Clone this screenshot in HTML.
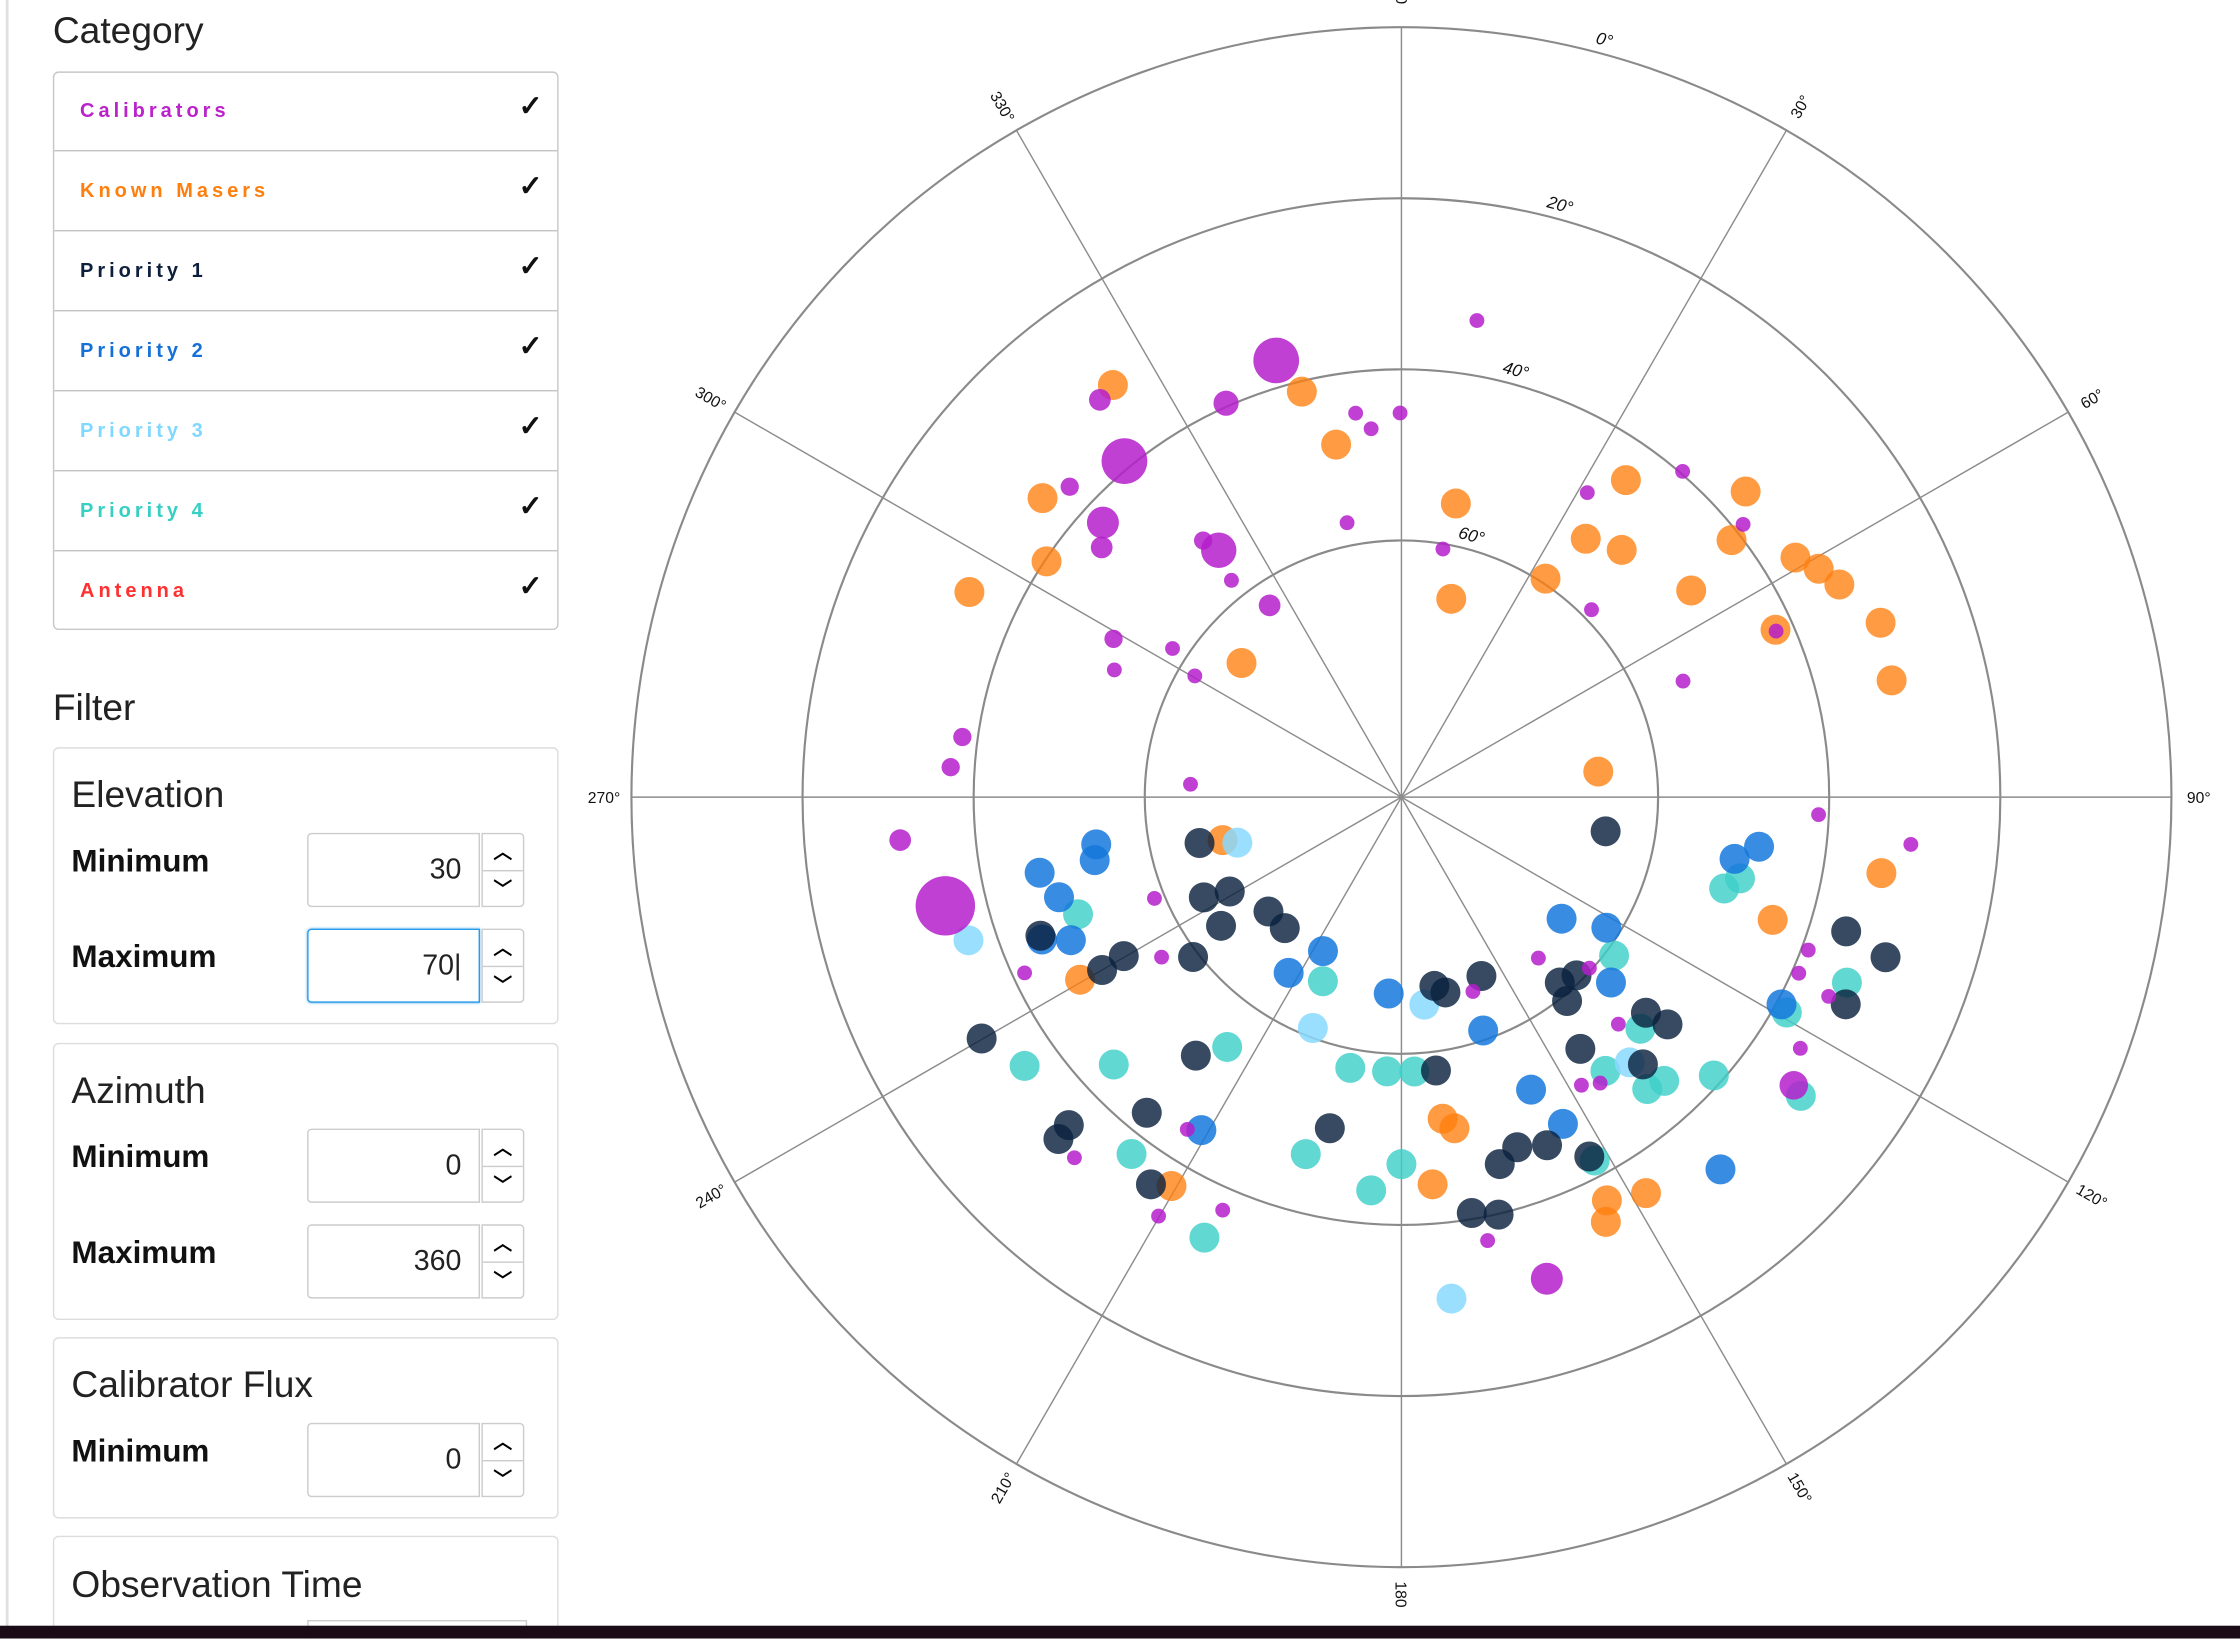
<!DOCTYPE html>
<html><head><meta charset="utf-8">
<style>
html,body{margin:0;padding:0;width:2240px;height:1638px;overflow:hidden;background:#fff;font-family:"Liberation Sans",sans-serif;}
#root{position:absolute;left:0;top:0;width:1568px;height:1147px;overflow:hidden;transform:scale(1.428571);transform-origin:0 0;}
.abs{position:absolute;}
.h{font-size:26px;color:#222;}
.box{position:absolute;left:37px;width:352px;border:1px solid #c8c8c8;border-radius:4px;background:#fff;}
.row{position:absolute;left:0;width:352px;height:55px;border-top:1px solid #c4c4c4;}
.row span{position:absolute;left:18px;top:19px;font-size:14px;font-weight:bold;letter-spacing:2.8px;}
.row i{position:absolute;left:325px;top:12px;font-style:normal;font-size:20px;font-weight:bold;color:#111;}
.lbl{position:absolute;left:12px;font-size:22px;font-weight:bold;color:#111;}
.inp{position:absolute;left:177px;width:121px;height:52px;border:1px solid #ccc;border-radius:3px 0 0 3px;font-size:20px;text-align:right;box-sizing:border-box;padding:14px 12px 0 0;color:#222;}
.spin{position:absolute;left:299px;width:30px;height:52px;border:1px solid #ccc;border-radius:0 3px 3px 0;box-sizing:border-box;}
.spin div{height:25px;text-align:center;font-size:13px;line-height:25px;font-weight:bold;}
.spin div+div{border-top:1px solid #ccc;}
</style></head><body>
<div id="root">
<div class="abs" style="left:4px;top:0;width:2px;height:1147px;background:#e0e0e0"></div>
<div class="abs h" style="left:37px;top:6px">Category</div>
<div class="box" style="top:50px;height:389px">
 <div class="row" style="top:-1px;border-top:none"><span style="color:#bb22cc">Calibrators</span><i>✓</i></div>
 <div class="row" style="top:54px"><span style="color:#ff7f0e">Known Masers</span><i>✓</i></div>
 <div class="row" style="top:110px"><span style="color:#0d1f3c">Priority 1</span><i>✓</i></div>
 <div class="row" style="top:166px"><span style="color:#1570d8">Priority 2</span><i>✓</i></div>
 <div class="row" style="top:222px"><span style="color:#80d8ff">Priority 3</span><i>✓</i></div>
 <div class="row" style="top:278px"><span style="color:#35cfc4">Priority 4</span><i>✓</i></div>
 <div class="row" style="top:334px"><span style="color:#ff3030">Antenna</span><i>✓</i></div>
</div>
<div class="abs h" style="left:37px;top:480px">Filter</div>

<div class="box" style="top:523px;height:192px;border-color:#ddd">
 <div class="abs h" style="left:12px;top:17px">Elevation</div>
 <div class="lbl" style="top:66px">Minimum</div>
 <div class="inp" style="top:59px">30</div>
 <div class="spin" style="top:59px"><div>︿</div><div>﹀</div></div>
 <div class="lbl" style="top:133px">Maximum</div>
 <div class="inp" style="top:126px;border:1px solid #2a9be8;box-shadow:0 0 2px #5ab4f0">70|</div>
 <div class="spin" style="top:126px"><div>︿</div><div>﹀</div></div>
</div>
<div class="box" style="top:730px;height:192px;border-color:#ddd">
 <div class="abs h" style="left:12px;top:17px">Azimuth</div>
 <div class="lbl" style="top:66px">Minimum</div>
 <div class="inp" style="top:59px">0</div>
 <div class="spin" style="top:59px"><div>︿</div><div>﹀</div></div>
 <div class="lbl" style="top:133px">Maximum</div>
 <div class="inp" style="top:126px">360</div>
 <div class="spin" style="top:126px"><div>︿</div><div>﹀</div></div>
</div>
<div class="box" style="top:936px;height:125px;border-color:#ddd">
 <div class="abs h" style="left:12px;top:17px">Calibrator Flux</div>
 <div class="lbl" style="top:66px">Minimum</div>
 <div class="inp" style="top:59px">0</div>
 <div class="spin" style="top:59px"><div>︿</div><div>﹀</div></div>
</div>
<div class="box" style="top:1075px;height:100px;border-color:#ddd">
 <div class="abs h" style="left:12px;top:18px">Observation Time</div>
 <div class="abs" style="left:177px;top:58px;width:152px;height:30px;border:1px solid #ccc"></div>
</div>

<svg id="chart" class="abs" style="left:0;top:0" width="1568" height="1138"></svg>
<div class="abs" style="left:0;top:1138px;width:1568px;height:9px;background:#1b0b16;z-index:5"></div>
</div>
<script>
const categories=["cal","maser","p1","p2","p3","p4"];
const calAz=[9,344,336,322.8,353.2,355.3,359.8,320.5,313.1,312.6,309.8,322.3,323.5,348.8,321.9,325.5,298.8,303,293.9,300.4,40.8,31.4,51.4,45.4,67.6,273.5,277.8,273.8,265.1,256.6,247.7,245,236.3,92.4,95.3,110.6,113.9,115,122.2,126.3,159.8,139.6,132.3,136.3,145.2,148,9.5,212.8,222.2,210.1,203.4,169,163.2,66.1];
const calEl=[33.6,36.9,39.6,31.7,44.8,46.8,45.1,39.1,36.9,42.6,44.4,52.1,54.1,57.3,57.8,62.8,51.6,58.1,53.3,62,39.7,48.3,38.9,58.8,54.4,65.3,38.2,37.2,31.2,35.2,58.8,41.4,56.3,41.2,30.2,39.2,39.2,34.9,34.9,33.1,65.8,65.3,60.3,53.3,49.3,50.3,60.6,43.8,33.1,33.4,37.4,37.2,31.2,42.1];
const calFlux=[1,10,4,3,1,1,1,10,2,6,3,2,7,1,1,3,2,1,1,1,1,1,1,1,1,1,2,2,3,14,1,1,1,1,1,1,1,1,1,5,1,1,1,1,1,1,1,1,1,1,1,1,6,1];
const maserAz=[325,346.2,349.5,309.8,303.6,295.4,310,10.5,14.1,35.3,35.5,41.7,33.4,48.4,52.1,58.7,61.3,64.1,54.5,65.9,70,76.6,82.6,99,108.3,256.5,240.4,210.6,172.7,170.9,175.4,153,154.3,148.3];
const maserEl=[31.2,41.2,48.1,35.4,40.2,34.1,65.6,55.1,66.1,44.6,52.9,51.3,59.4,36.2,41.1,36.1,34.4,33.1,48.4,42.1,30.4,31.1,66.8,33.2,44.3,68.5,46.8,37.2,52.1,50.8,44.6,37.1,34.9,35.6];
const p1Az=[99.5,257.2,243.1,241.2,234.5,229.3,221.7,240.2,240,249,232.5,170.1,167.3,155.9,139.5,135.5,140.9,106.8,108.3,115,131.4,130.5,144.6,137.9,172.8,218.5,240.1,218.9,225.4,225.1,192.2,157.3,161.7,165,152.4,170.4,166.9,212.9];
const p1El=[65.8,65.8,64.1,67.1,64.1,69.5,69.5,52.6,49.6,44.8,59.3,67.6,66.6,67.1,61.5,60.8,59.3,35.7,30.4,32.7,51.9,49.1,53.9,47.9,57.8,51.4,33.4,42.6,35.4,33.4,50.4,45.9,46.9,45.6,42.6,40.7,39.9,36.1];
const p2Az=[261.2,258.4,258.2,253.7,246.6,248.4,207,212.7,183.7,160.7,127.2,122.5,131.5,100.5,97.9,118.6,156.1,153.7,139.4,211];
const p2El=[53.9,53.4,46.8,48.3,47.9,44.8,69.8,65.6,67,61.1,66.5,61.6,57.3,50.4,47.8,39.4,52.6,47.4,32.7,44.6];
const p3Az=[254.5,251.7,201,173.7,139.3,174.3];
const p3El=[70.1,36.7,61.1,65.6,49.1,31.1];
const p4Az=[250.1,105.8,103.5,203.1,126.7,112.6,119.2,134.1,214.9,234.5,227.1,190.7,183,177.3,143.3,131.7,139.9,137.2,126.8,152,217.1,195,180,184.4,204.1];
const p4El=[49.8,50.8,49.3,66.6,59,33.6,38.4,51.1,54.4,35.9,44.1,57.8,57.9,57.9,50.1,41.1,45.4,44.8,31.7,41.9,37.7,46.8,47.1,43.9,33.6];
const ringEls=[0,20,40,60];
const azTicks=[0,30,60,90,120,150,180,210,240,270,300,330];
const azTickLabels=["0","30°","60°","90°","120°","150°","180","210°","240°","270°","300°","330°"];

const NS="http://www.w3.org/2000/svg";
const svg=document.getElementById("chart");
const CX=981,CY=558,R=539;
function rScale(el){return (90-el)/90*R;}
function px(az,el){const a=az*Math.PI/180,r=rScale(el);return [CX+r*Math.sin(a),CY-r*Math.cos(a)];}
function mk(t,a){const e=document.createElementNS(NS,t);for(const k in a)e.setAttribute(k,a[k]);svg.appendChild(e);return e;}

ringEls.forEach((el,i)=>{
  const c=mk("circle",{cx:CX,cy:CY,r:rScale(el),fill:"none",stroke:"#8a8a8a","stroke-width":1.5});
  
  
  const p=px(15,el-1.0);
  const t=mk("text",{x:p[0],y:p[1],"font-size":12,"font-style":"italic","text-anchor":"middle",fill:"#111",transform:`rotate(15 ${p[0]} ${p[1]})`});
  t.textContent=el+"°";
  
  
});
azTicks.forEach((az,i)=>{
  const p=px(az,0);
  const l=mk("line",{x1:CX,y1:CY,x2:p[0],y2:p[1],stroke:"#8c8c8c","stroke-width":1});
  
  
  const q=px(az,-3.2);
  let rot=(az===90||az===270)?0:(az>180?az-270:az-90);
  if(az===180)rot=90;
  const t=mk("text",{x:q[0],y:q[1]+4,"font-size":11,"text-anchor":"middle",fill:"#111",transform:`rotate(${rot} ${q[0]} ${q[1]})`});
  t.textContent=azTickLabels[i];
  
  
});
function drawSeries(azs,els,fill,op,name,sizes){
  azs.forEach((az,i)=>{
    const p=px(az,els[i]);
    const r=sizes?4+sizes[i]*1.2:10.5;
    const c=mk("circle",{cx:p[0],cy:p[1],r:r,fill:fill,"fill-opacity":op});
    
    
  });
}
drawSeries(maserAz,maserEl,"#ff7f0e",0.78,"maser-point");
drawSeries(p4Az,p4El,"#3fcfc9",0.82,"priority-4-point");
drawSeries(p3Az,p3El,"#8ad9ff",0.85,"priority-3-point");
drawSeries(p2Az,p2El,"#1578dc",0.85,"priority-2-point");
drawSeries(p1Az,p1El,"#0b223f",0.82,"priority-1-point");
drawSeries(calAz,calEl,"#b51ecb",0.85,"calibrator-point",calFlux);
</script>
</body></html>
